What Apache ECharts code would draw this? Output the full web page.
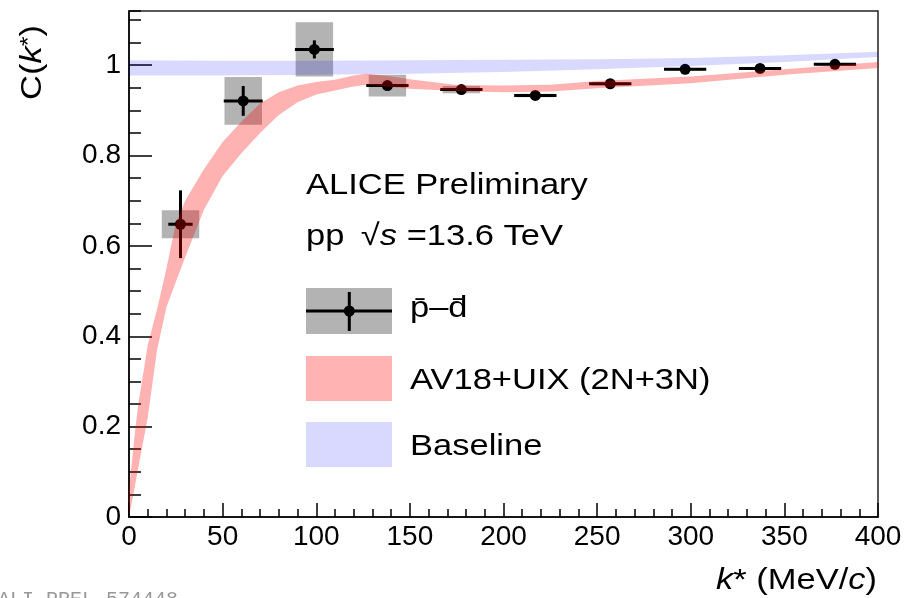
<!DOCTYPE html>
<html>
<head>
<meta charset="utf-8">
<script src="https://cdn.jsdelivr.net/npm/echarts@6/dist/echarts.min.js"></script>
<style>
html, body { margin: 0; padding: 0; background: #fff; }
#chart { width: 908px; height: 598px; }
</style>
</head>
<body>
<div id="chart"></div>
<script>
// antiproton-antideuteron correlation function
var kStar = [27.5, 61, 99, 138, 177.5, 217, 257, 297, 337, 377]
var corr = [0.648, 0.921, 1.035, 0.955, 0.946, 0.933, 0.959, 0.991, 0.993, 1.002]
var kErr = [6.5, 10.4, 10.4, 11.3, 11.3, 11.3, 11.3, 11.3, 11.3, 11.3]
var statErr = [0.075, 0.033, 0.02, 0.008, 0.007, 0.006, 0.006, 0.006, 0.006, 0.006]
var sysKErr = [10, 10, 10, 10, 10, 10, 10, 10, 10, 10]
var sysErr = [0.031, 0.053, 0.06, 0.024, 0.008, 0.004, 0.004, 0.003, 0.003, 0.003]

// AV18+UIX (2N+3N) band
var modelK = [0, 3.5, 5, 10, 15, 20, 25, 30, 40, 50, 60, 70, 80, 90, 100, 110, 120, 127, 140, 150, 175, 200, 225, 250, 300, 350, 400]
var modelLow = [0, 0.076, 0.11, 0.22, 0.37, 0.465, 0.52, 0.575, 0.68, 0.755, 0.805, 0.85, 0.89, 0.918, 0.935, 0.944, 0.953, 0.957, 0.952, 0.948, 0.943, 0.940, 0.942, 0.949, 0.960, 0.979, 0.994]
var modelHigh = [0.06, 0.20, 0.25, 0.38, 0.46, 0.55, 0.65, 0.70, 0.77, 0.83, 0.875, 0.915, 0.94, 0.955, 0.963, 0.968, 0.977, 0.981, 0.975, 0.969, 0.956, 0.955, 0.957, 0.965, 0.975, 0.991, 1.007]

// baseline band
var baseK = [0, 50, 100, 150, 200, 250, 300, 350, 400]
var baseLow = [0.977, 0.977, 0.979, 0.981, 0.985, 0.991, 0.998, 1.007, 1.018]
var baseHigh = [1.011, 1.010, 1.010, 1.011, 1.012, 1.013, 1.016, 1.022, 1.030]

var FONT = '"Liberation Sans", Arial, Helvetica, sans-serif'
var SX = 1.15
var RED = 'rgba(255,0,0,0.3)'
var BLUE = 'rgba(0,0,255,0.15)'
var GREY = '#b3b3b3'

var chart = echarts.init(document.getElementById('chart'))

function renderBoxes (params, api) {
  var k = api.value(0), c = api.value(1), dk = api.value(2), dc = api.value(3)
  var p0 = api.coord([k - dk, c + dc])
  var p1 = api.coord([k + dk, c - dc])
  return {
    type: 'rect',
    shape: {x: p0[0], y: p0[1], width: p1[0] - p0[0], height: p1[1] - p0[1]},
    style: {fill: GREY}
  }
}

function renderErrors (params, api) {
  var k = api.value(0), c = api.value(1), dk = api.value(2), dc = api.value(3)
  var l = api.coord([k - dk, c]), r = api.coord([k + dk, c])
  var t = api.coord([k, c + dc]), b = api.coord([k, c - dc])
  var st = {stroke: '#000', lineWidth: 3}
  return {
    type: 'group',
    children: [
      {type: 'line', shape: {x1: l[0], y1: l[1], x2: r[0], y2: r[1]}, style: st},
      {type: 'line', shape: {x1: t[0], y1: t[1], x2: b[0], y2: b[1]}, style: st}
    ]
  }
}

// whole band drawn once as one polygon: upper edge forward, lower edge back
function bandRenderer (color) {
  return function (params, api) {
    if (params.dataIndexInside !== 0) return
    var up = [], lo = []
    for (var i = 0; i < params.dataInsideLength; i++) {
      up.push(api.coord([api.value(0, i), api.value(2, i)]))
      lo.push(api.coord([api.value(0, i), api.value(1, i)]))
    }
    return {type: 'polygon', shape: {points: up.concat(lo.reverse())}, style: {fill: color}}
  }
}

function txt (x, y, text, rich, align, extra) {
  var el = {
    type: 'text', x: x, y: y, scaleX: SX, z: 20,
    style: {
      text: text, rich: rich, fill: '#000',
      font: '30px ' + FONT,
      align: align || 'left', textAlign: align || 'left',
      verticalAlign: 'middle', textVerticalAlign: 'middle'
    }
  }
  if (extra) Object.assign(el, extra)
  return el
}

var tok = {
  n: {fontSize: 30, fontFamily: FONT, fill: '#000'},
  i: {fontSize: 30, fontFamily: FONT, fontStyle: 'italic', fill: '#000'},
  r: {fontSize: 30, fontFamily: FONT, fill: '#000', padding: [0, 0, 0, 6]},
  s: {fontSize: 22, fontFamily: FONT, fill: '#000', verticalAlign: 'top'}
}

var axisLbl = {fontSize: 28, fontFamily: FONT, color: '#000'}
var tickLine = {color: '#000', width: 1.5}

chart.setOption({
  animation: false,
  backgroundColor: '#fff',
  grid: {left: 129, top: 11, right: 30, bottom: 81, show: true, borderColor: '#222', borderWidth: 1.5},
  xAxis: {
    type: 'value', min: 0, max: 400, interval: 50,
    axisLine: {lineStyle: tickLine},
    axisTick: {inside: true, length: 14, lineStyle: tickLine},
    minorTick: {show: true, splitNumber: 5, length: 8, lineStyle: tickLine},
    axisLabel: Object.assign({margin: 6}, axisLbl),
    splitLine: {show: false}
  },
  yAxis: [
    {
      type: 'value', min: 0, max: 1.12, interval: 0.2,
      axisLine: {show: true, lineStyle: tickLine},
      axisTick: {inside: true, length: 23, lineStyle: tickLine},
      axisLabel: Object.assign({margin: 8, showMaxLabel: false}, axisLbl),
      splitLine: {show: false}
    },
    {
      type: 'value', min: 0, max: 1.12, interval: 0.05, position: 'left',
      axisLine: {show: false},
      axisTick: {inside: true, length: 12, lineStyle: tickLine},
      axisLabel: {show: false},
      splitLine: {show: false}
    }
  ],
  series: [
    {
      type: 'custom', name: 'syst', z: 1, renderItem: renderBoxes,
      encode: {x: 0, y: 1},
      data: kStar.map(function (k, i) { return [k, corr[i], sysKErr[i], sysErr[i]] })
    },
    {
      type: 'custom', name: 'stat', z: 2, renderItem: renderErrors,
      encode: {x: 0, y: 1},
      data: kStar.map(function (k, i) { return [k, corr[i], kErr[i], statErr[i]] })
    },
    {
      type: 'scatter', name: 'p̄–d̄', z: 3, symbolSize: 11,
      itemStyle: {color: '#000', opacity: 1},
      data: kStar.map(function (k, i) { return [k, corr[i]] })
    },
    {
      type: 'custom', name: 'AV18+UIX (2N+3N)', z: 4, silent: true,
      renderItem: bandRenderer(RED),
      encode: {x: 0, y: [1, 2]},
      data: modelK.map(function (k, i) { return [k, modelLow[i], modelHigh[i]] })
    },
    {
      type: 'custom', name: 'Baseline', z: 5, silent: true,
      renderItem: bandRenderer(BLUE),
      encode: {x: 0, y: [1, 2]},
      data: baseK.map(function (k, i) { return [k, baseLow[i], baseHigh[i]] })
    }
  ],
  graphic: [
    // axis titles
    txt(32.5, 100, '{n|C(}{i|k}{s|*}{n|)}', tok, 'left', {rotation: Math.PI / 2}),
    txt(877, 581, '{i|k}{n|* (MeV/}{i|c}{n|)}', tok, 'right'),
    // header
    txt(306, 186, 'ALICE Preliminary'),
    txt(306, 236.5, '{n|pp }{r|√}{i|s}{n| =13.6 TeV}', tok),
    // legend
    {type: 'rect', shape: {x: 306, y: 288, width: 86, height: 46}, style: {fill: GREY}},
    {type: 'line', shape: {x1: 306, y1: 311, x2: 392, y2: 311}, style: {stroke: '#000', lineWidth: 3}},
    {type: 'line', shape: {x1: 349.3, y1: 292, x2: 349.3, y2: 331}, style: {stroke: '#000', lineWidth: 3}},
    {type: 'circle', shape: {cx: 349.3, cy: 311, r: 5.5}, style: {fill: '#000'}},
    txt(410, 309, 'p̄–d̄'),
    {type: 'rect', shape: {x: 306, y: 356, width: 86, height: 45}, style: {fill: '#ffb3b3'}},
    txt(410, 381, 'AV18+UIX (2N+3N)'),
    {type: 'rect', shape: {x: 306, y: 422, width: 86, height: 45}, style: {fill: '#d9d9ff'}},
    txt(410, 447, 'Baseline'),
    // figure id, cut off at the bottom edge
    {
      type: 'text', x: -2, y: 590, z: 20,
      style: {
        text: 'ALI-PREL-574448', font: '20px "Liberation Mono", "Courier New", monospace',
        fill: '#999', align: 'left', textAlign: 'left', verticalAlign: 'top', textVerticalAlign: 'top'
      }
    }
  ]
})
</script>
</body>
</html>
